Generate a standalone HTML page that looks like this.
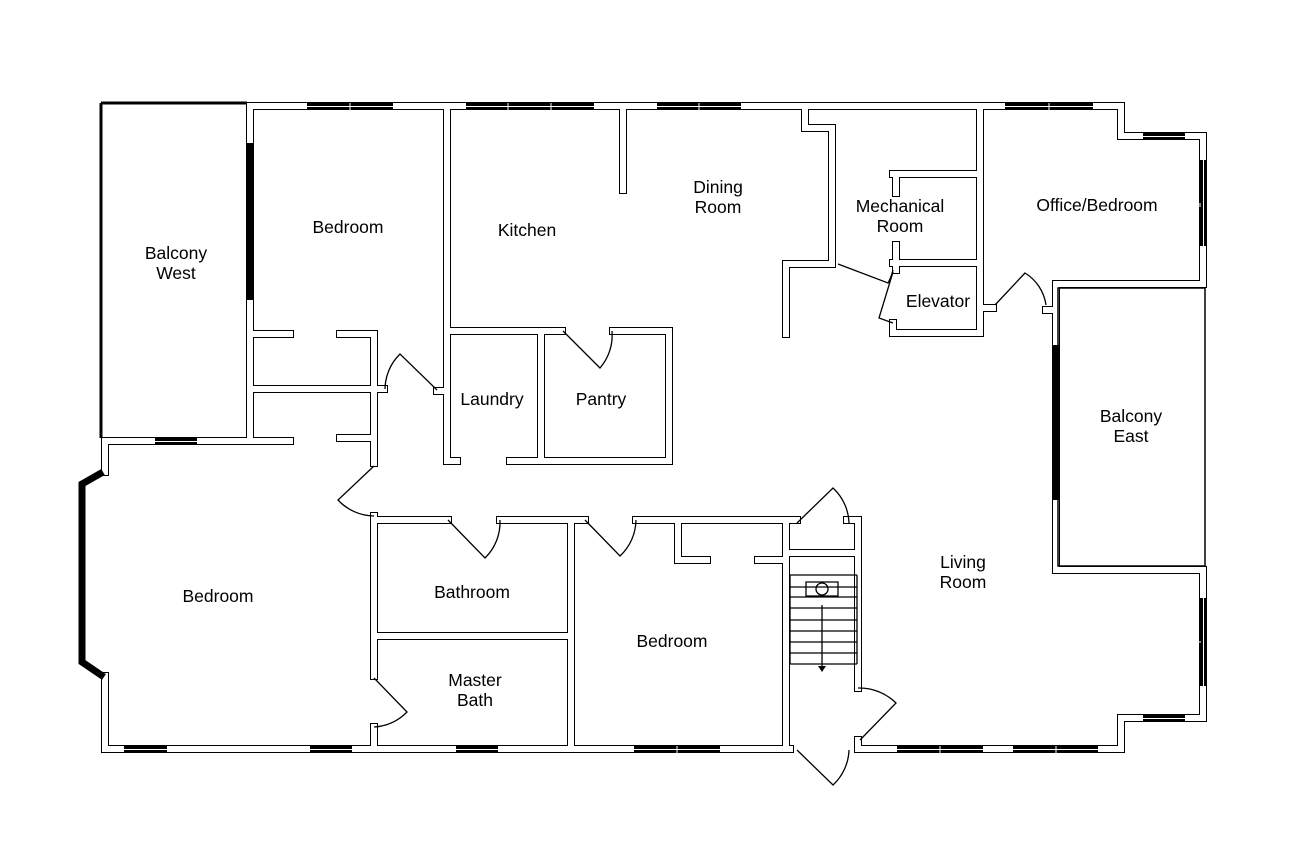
<!DOCTYPE html>
<html><head><meta charset="utf-8"><style>
html,body{margin:0;padding:0;background:#fff;}
svg{display:block}
text{font-family:"Liberation Sans",sans-serif;font-size:17.5px;fill:#000;text-anchor:middle}
</style></head><body>
<svg width="1294" height="864" viewBox="0 0 1294 864" xmlns="http://www.w3.org/2000/svg">
<defs>
<g id="w" fill="none" stroke-linecap="square" stroke-linejoin="miter">
<path d="M250,106 H1121 V136 H1203 V284 H1056 V570 H1203 V718 H1121 V749 H858"/>
<path d="M790,749 H105 V676"/>
<path d="M105,472 V441 H290"/>
<path d="M250,106 V438"/>
<path d="M250,334 H290 M340,334 H374 V463 M374,389 H384 M250,389 H374 M340,438 H374"/>
<path d="M447,106 V461 H457 M447,391 H437"/>
<path d="M447,331 H562 M541,331 V461 M613,331 H669 V461 H510"/>
<path d="M623,106 V190"/>
<path d="M805,106 V128 H832 V264 H786 V334"/>
<path d="M980,106 V333 H893 V323 M980,308 H993"/>
<path d="M893,263 H980 M893,174 H980 M896,174 V193 M896,245 V270"/>
<path d="M1056,284 V310 H1046"/>
<path d="M374,516 V676 M374,727 V749"/>
<path d="M374,520 H448 M500,520 H585 M636,520 H797 M847,520 H858 V688 M858,740 V749"/>
<path d="M571,520 V749 M374,636 H571"/>
<path d="M678,520 V560 H707 M758,560 H786 M786,520 V749 M786,553 H858"/>
</g>
</defs>
<use href="#w" stroke="#000" stroke-width="8"/>
<use href="#w" stroke="#fff" stroke-width="6"/>
<path d="M101,103 H247 M101,103 V438" stroke="#000" stroke-width="3" fill="none"/>
<rect x="1058" y="288" width="147" height="278" fill="none" stroke="#000" stroke-width="1.5"/>
<rect x="246" y="143" width="8" height="157" fill="#000"/>
<rect x="1052" y="345" width="8" height="155" fill="#000"/>
<path d="M103,472 L82,484 V662 L104,677" stroke="#000" stroke-width="7" fill="none"/>
<g fill="#000">
<rect x="307" y="103" width="86" height="7"/><rect x="466" y="103" width="128" height="7"/>
<rect x="657" y="103" width="84" height="7"/><rect x="1005" y="103" width="88" height="7"/>
<rect x="1143" y="133" width="42" height="7"/><rect x="1143" y="715" width="42" height="7"/>
<rect x="1200" y="160" width="7" height="86"/><rect x="1200" y="598" width="7" height="88"/>
<rect x="155" y="438" width="42" height="7"/>
<rect x="124" y="746" width="43" height="7"/><rect x="310" y="746" width="42" height="7"/>
<rect x="456" y="746" width="42" height="7"/><rect x="634" y="746" width="86" height="7"/>
<rect x="897" y="746" width="86" height="7"/><rect x="1013" y="746" width="85" height="7"/>
</g>
<g stroke="#fff" stroke-width="1">
<path d="M307,106.5 H393 M466,106.5 H594 M657,106.5 H741 M1005,106.5 H1093 M1143,136.5 H1185 M1143,718.5 H1185 M155,441.5 H197 M124,749.5 H167 M310,749.5 H352 M456,749.5 H498 M634,749.5 H720 M897,749.5 H983 M1013,749.5 H1098 M1203.5,160 V246 M1203.5,598 V686"/>
<path d="M350,103 V110 M508,103 V110 M551,103 V110 M699,103 V110 M1049,103 V110 M677,746 V753 M940,746 V753 M1056,746 V753 M1200,203 V207 M1200,641 V643"/>
</g>
<g fill="none" stroke="#000" stroke-width="1.3">
<path d="M437,390 L400,354 A50,50 0 0 0 385,389"/>
<path d="M563,331 L600,368 A50,50 0 0 0 612,331"/>
<path d="M374,466 L338,500 A50,50 0 0 0 374,516"/>
<path d="M448,520 L485,558 A50,50 0 0 0 500,520"/>
<path d="M585,520 L620,556 A50,50 0 0 0 636,520"/>
<path d="M374,678 L407,712 A50,50 0 0 1 374,727"/>
<path d="M797,523 L833,488 A50,50 0 0 1 849,523"/>
<path d="M858,688 A52,52 0 0 1 896,703 L860,740"/>
<path d="M797,750 L833,785 A50,50 0 0 0 849,750"/>
<path d="M838,264 L888,283 A52,52 0 0 0 893,270"/>
<path d="M893,272 L879,318 L893,323"/>
<path d="M995,305 L1025,273 A45,45 0 0 1 1046,305"/>
</g>
<g stroke="#000" stroke-width="1.3" fill="none">
<path d="M790,575 H857 M790,587 H857 M790,597 H857 M790,608 H857 M790,620 H857 M790,631 H857 M790,642 H857 M790,653 H857 M790,664 H857 M790,575 V664 M857,575 V664"/>
<path d="M822,605 V668"/>
<path d="M806,582 H838 V596 H806 Z"/><circle cx="822" cy="589" r="6"/>
</g>
<path d="M818,666 L826,666 L822,672 Z" fill="#000"/>
<text x="348" y="233">Bedroom</text>
<text x="176" y="259">Balcony</text><text x="176" y="279">West</text>
<text x="527" y="236">Kitchen</text>
<text x="718" y="193">Dining</text><text x="718" y="213">Room</text>
<text x="900" y="212">Mechanical</text><text x="900" y="232">Room</text>
<text x="1097" y="211">Office/Bedroom</text>
<text x="938" y="307">Elevator</text>
<text x="492" y="405">Laundry</text>
<text x="601" y="405">Pantry</text>
<text x="1131" y="422">Balcony</text><text x="1131" y="442">East</text>
<text x="963" y="568">Living</text><text x="963" y="588">Room</text>
<text x="218" y="602">Bedroom</text>
<text x="472" y="598">Bathroom</text>
<text x="475" y="686">Master</text><text x="475" y="706">Bath</text>
<text x="672" y="647">Bedroom</text>
</svg>
</body></html>
